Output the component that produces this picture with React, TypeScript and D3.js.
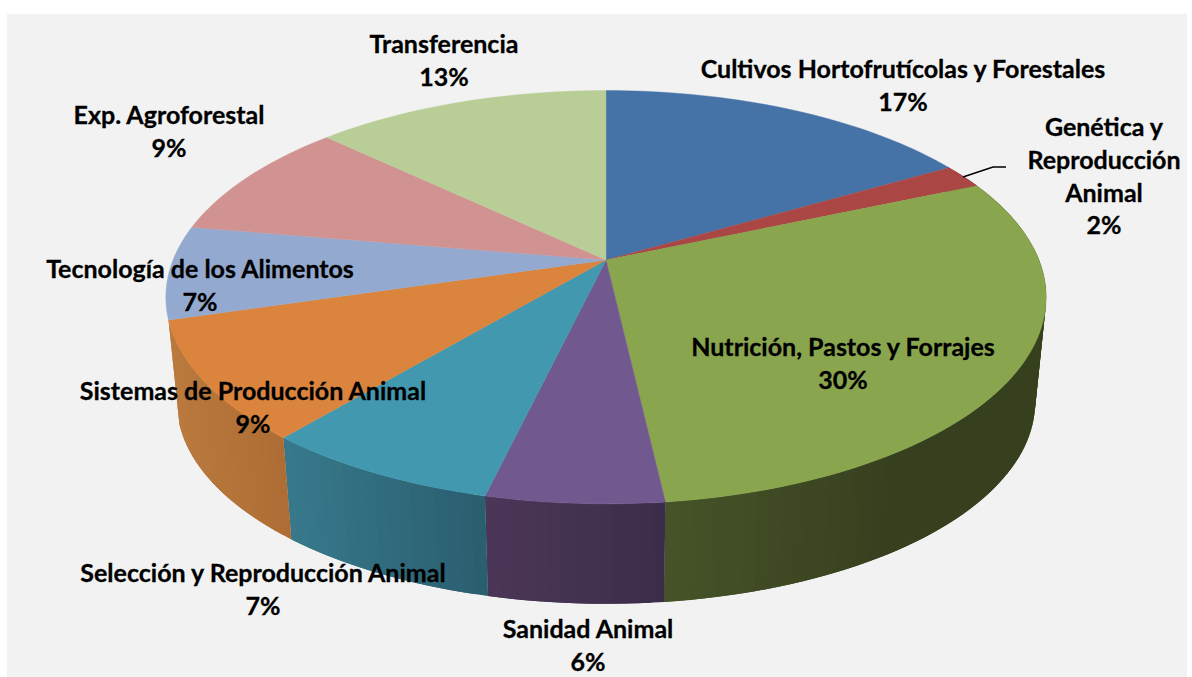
import React from "react";
import * as d3 from "d3";

const categories: string[][] = [
  ["Cultivos Hortofrutícolas y Forestales"],
  ["Genética y", "Reproducción", "Animal"],
  ["Nutrición, Pastos y Forrajes"],
  ["Sanidad Animal"],
  ["Selección y Reproducción Animal"],
  ["Sistemas de Producción Animal"],
  ["Tecnología de los Alimentos"],
  ["Exp. Agroforestal"],
  ["Transferencia"],
];
const values = [16.6, 1.9, 29.7, 5.5, 7.4, 9.3, 7.3, 9.4, 12.9];
const topColors = ["#4572A7", "#AA4643", "#89A54E", "#71588F", "#4198AF", "#DB843D", "#93A9CF", "#D19392", "#B9CD96"];
const wallFrom = ["#2f4d72", "#732f2e", "#465429", "#4c3659", "#38798c", "#ba7a3e", "#647391", "#8e6463", "#7e8b66"];
const wallTo = ["#2f4d72", "#732f2e", "#37401e", "#3b2d49", "#2a5e6e", "#ae6d34", "#647391", "#8e6463", "#7e8b66"];
const labelCenters = [903, 1104, 843, 588, 263, 253, 200, 169, 444];
const labelTops = [78, 136, 356, 638, 582, 400, 278, 124, 53];

const W = 1192;
const H = 677;
const cx = 606;
const cyTop = 260;
const cyBottom = 366;
const A = 433;
const B = 200;
const K = 0.18;
const BOTTOM_SCALE = 0.975;
const LINE = 32.8;
const WALL_START = Math.PI * 0.33;

type Pt = [number, number];
const project = (theta: number, scale: number, cy: number): Pt => {
  const w = 1 + K * Math.cos(theta);
  return [cx + (scale * A * Math.sin(theta)) / w, cy - (scale * B * Math.cos(theta)) / w];
};

const line = d3.line<Pt>().curve(d3.curveLinear);
const slices = d3.pie<number>().sort(null)(values);
const STEP = (1.5 * Math.PI) / 180;

const sampleAngles = (a0: number, a1: number) => {
  const n = Math.max(1, Math.ceil((a1 - a0) / STEP));
  return d3.range(n + 1).map((i) => a0 + ((a1 - a0) * i) / n);
};

export default function App() {
  // Only the slices facing the viewer show a wall: the last one is Sistemas de Producción.
  const strips: { d: string; fill: string; key: string }[] = [];
  slices.forEach((s, i) => {
    if (i > 5) return;
    const lo = Math.max(s.startAngle, WALL_START);
    const hi = s.endAngle;
    if (hi <= lo) return;
    const angles = sampleAngles(lo, hi);
    const xs = angles.map((t) => project(t, 1, cyTop)[0]);
    const xExtent = d3.extent(xs) as [number, number];
    const colour = d3
      .scaleLinear<string>()
      .domain(i === 2 ? [xExtent[0], xExtent[0] + 230] : [xExtent[0], xExtent[1]])
      .range([wallFrom[i], wallTo[i]])
      .clamp(true);
    angles.slice(0, -1).forEach((t, j) => {
      // Each strip overlaps the next one so that no seams show between them.
      const t2 = angles[Math.min(j + 2, angles.length - 1)];
      const quad: Pt[] = [
        project(t, 1, cyTop),
        project(t2, 1, cyTop),
        project(t2, BOTTOM_SCALE, cyBottom),
        project(t, BOTTOM_SCALE, cyBottom),
      ];
      const mid = (xs[j] + xs[j + 1]) / 2;
      strips.push({ d: line(quad)! + "Z", fill: colour(mid), key: `${i}-${j}` });
    });
  });

  const faces = slices.map((s) => {
    const arc = sampleAngles(s.startAngle, s.endAngle).map((t) => project(t, 1, cyTop));
    return line([[cx, cyTop] as Pt, ...arc])! + "Z";
  });

  return (
    <svg width={W} height={H} style={{ position: "absolute", left: 0, top: 0, display: "block" }}>
      <rect x={0} y={0} width={W} height={H} fill="#ffffff" />
      <rect x={7} y={14} width={1180} height={663} fill="#f2f2f2" />
      <g>
        {strips.map((q) => (
          <path key={q.key} d={q.d} fill={q.fill} />
        ))}
      </g>
      <g>
        {faces.map((d, i) => (
          <path key={i} d={d} fill={topColors[i]} stroke={topColors[i]} strokeWidth={0.4} />
        ))}
      </g>
      <polyline points="963,177 993,167 1006,167" fill="none" stroke="#000" strokeWidth={1.5} />
      <g
        fontFamily="Lato, sans-serif"
        fontWeight={700}
        fontSize={25}
        fill="#000"
        stroke="#000"
        strokeWidth={0.3}
        textAnchor="middle"
      >
        {categories.map((lines, i) => (
          <text key={i}>
            {lines.map((t, j) => (
              <tspan key={j} x={labelCenters[i]} y={labelTops[i] + j * LINE}>
                {t}
              </tspan>
            ))}
            <tspan x={labelCenters[i]} y={labelTops[i] + lines.length * LINE}>
              {Math.round(values[i])}%
            </tspan>
          </text>
        ))}
      </g>
    </svg>
  );
}
